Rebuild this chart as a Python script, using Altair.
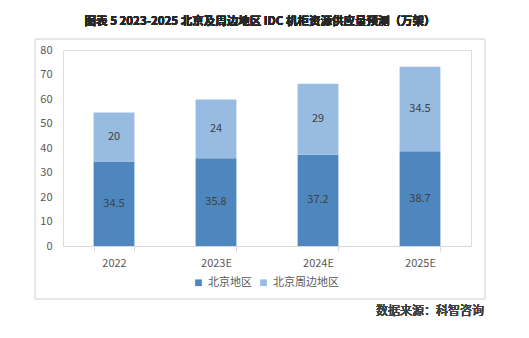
import altair as alt
import pandas as pd

years = ["2022", "2023E", "2024E", "2025E"]
beijing = [34.5, 35.8, 37.2, 38.7]
surround = [20, 24, 29, 34.5]
series = ["北京地区", "北京周边地区"]
colors = ["#4E87BE", "#98BBE2"]
yticks = [0, 10, 20, 30, 40, 50, 60, 70, 80]

rows = []
for i, y in enumerate(years):
    rows.append({"year": y, "series": series[0], "value": beijing[i], "ord": 0})
    rows.append({"year": y, "series": series[1], "value": surround[i], "ord": 1})
df = pd.DataFrame(rows)

FONT = "Noto Sans CJK SC"
W, H = 408, 196

base = alt.Chart(df).transform_stack(
    stack="value", groupby=["year"], as_=["y0", "y1"], sort=[alt.SortField("ord", order="ascending")]
).transform_calculate(mid="(datum.y0 + datum.y1) / 2")

xaxis = alt.Axis(labelAngle=0, domainColor="#d9d9d9", tickColor="#d9d9d9",
                 tickBand="extent", tickSize=5, labelColor="#595959",
                 labelFontSize=11, labelFont=FONT, labelPadding=6)
yaxis = alt.Axis(values=yticks, grid=False, domain=False, ticks=False,
                 labelOverlap=False,
                 labelColor="#595959", labelFontSize=11, labelFont=FONT, labelPadding=11)
xscale = alt.Scale(paddingInner=0.6, paddingOuter=0.3)
yscale = alt.Scale(domain=[0, 80])

bars = base.mark_bar().encode(
    x=alt.X("year:N", sort=years, title=None, scale=xscale, axis=xaxis),
    y=alt.Y("y0:Q", title=None, scale=yscale, axis=yaxis),
    y2="y1:Q",
    color=alt.Color("series:N", sort=series,
                    scale=alt.Scale(domain=series, range=colors),
                    legend=alt.Legend(title=None, orient="none", legendX=130, legendY=227,
                                      direction="horizontal", symbolType="square", symbolSize=45,
                                      labelFontSize=11, labelFont=FONT, labelColor="#595959",
                                      columnPadding=6, symbolStrokeWidth=0)),
)

labels = base.mark_text(fontSize=11, font=FONT, color="#404040").encode(
    x=alt.X("year:N", sort=years, title=None, scale=xscale, axis=xaxis),
    y=alt.Y("mid:Q", title=None, scale=yscale, axis=yaxis),
    text=alt.Text("value:Q"),
)

frame = alt.Chart(df).mark_rect(fill=None, stroke="#e6e6e6", strokeWidth=1).encode(
    x=alt.value(-28), x2=alt.value(422), y=alt.value(-11), y2=alt.value(249)
)

title = alt.Chart(df).mark_text(fontSize=11.5, font=FONT, fontWeight="bold", color="#262626").encode(
    x=alt.value(197), y=alt.value(-28),
    text=alt.value("图表 5 2023-2025 北京及周边地区 IDC 机柜资源供应量预测（万架）"),
)

source = alt.Chart(df).mark_text(fontSize=12, font=FONT, fontWeight="normal", color="#404040", align="right").encode(
    x=alt.value(421), y=alt.value(261),
    text=alt.value("数据来源：科智咨询"),
)

chart = alt.layer(frame, bars, labels, title, source).properties(
    width=W, height=H,
    autosize=alt.AutoSizeParams(type="none"),
    padding={"left": 63, "top": 50, "right": 58, "bottom": 92},
).configure_view(stroke=None).configure(background="white")

chart.save("out.html", embed_options={"renderer": "svg", "actions": False})
